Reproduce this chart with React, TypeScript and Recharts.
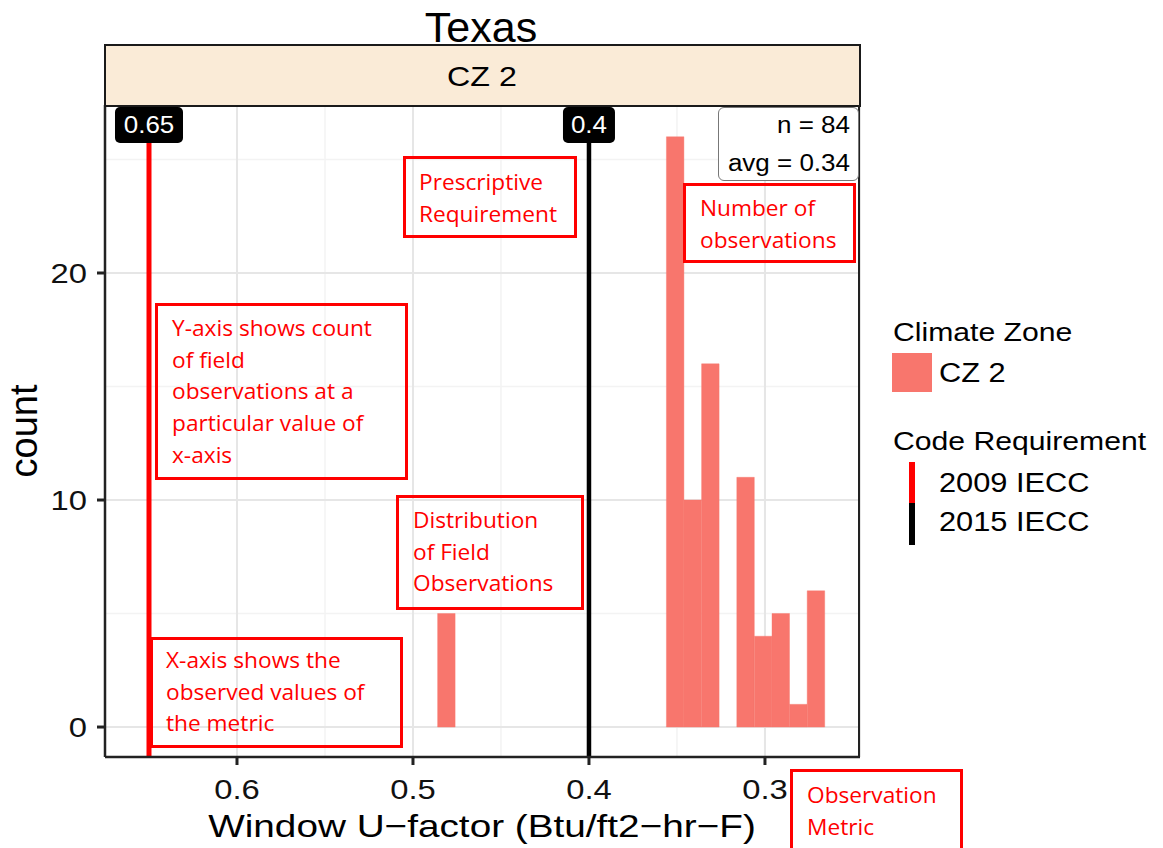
import React from "react";
import {
  ComposedChart,
  Bar,
  XAxis,
  YAxis,
  CartesianGrid,
  ReferenceLine,
} from "recharts";

// histogram bins (bin centre of U-factor) and counts, CZ 2 Texas
const binCenters = [0.481, 0.351, 0.341, 0.331, 0.311, 0.301, 0.291, 0.281, 0.271];
const counts = [5, 26, 10, 16, 11, 4, 5, 1, 6];

const xTicks = [0.3, 0.4, 0.5, 0.6];
const xMinor = [0.35, 0.45, 0.55, 0.65];
const yTicks = [0, 10, 20];
const yMinor = [5, 15, 25];

const codeValues = [0.65, 0.4];
const codeLabels = ["0.65", "0.4"];
const codeNames = ["2009 IECC", "2015 IECC"];
const codeColors = ["#FF0000", "#000000"];

const zoneNames = ["CZ 2"];
const avgText = "0.34";

const notePrescriptive = ["Prescriptive", "Requirement"];
const noteNumber = ["Number of", "observations"];
const noteYAxis = ["Y-axis shows count", "of field", "observations at a", "particular value of", "x-axis"];
const noteDistribution = ["Distribution", "of Field", "Observations"];
const noteXAxis = ["X-axis shows the", "observed values of", "the metric"];
const noteMetric = ["Observation", "Metric"];

const hist = binCenters.map((u, i) => ({ u, count: counts[i] }));
const nObs = counts.reduce((a, b) => a + b, 0);

const FONT = '"Liberation Sans", Arial, sans-serif';
const NOTE_FONT = '"Open Sans", sans-serif';
const BAR = "#F8766D";
const SX = 1.17;

function Txt({ x, y, size, children, anchor = "start", sx = 1, color = "#000", font = FONT }: any) {
  const tx = anchor === "middle" ? "-50%" : anchor === "end" ? "-100%" : "0";
  const origin = anchor === "middle" ? "center" : anchor === "end" ? "right" : "left";
  return (
    <div
      style={{
        position: "absolute",
        left: x,
        top: y,
        fontSize: size,
        lineHeight: 1,
        fontFamily: font,
        color,
        whiteSpace: "nowrap",
        transform: `translate(${tx},-50%) scaleX(${sx})`,
        transformOrigin: `${origin} center`,
      }}
    >
      {children}
    </div>
  );
}

function Note({ x, y, w, h, lines, tx, ty }: any) {
  return (
    <>
      <div
        style={{
          position: "absolute",
          left: x,
          top: y,
          width: w,
          height: h,
          border: "3px solid #FF0000",
          boxSizing: "border-box",
        }}
      />
      {lines.map((l: string, i: number) => (
        <Txt key={i} x={tx} y={ty + i * 31.7} size={21} sx={1.08} color="#FF0000" font={NOTE_FONT}>
          {l}
        </Txt>
      ))}
    </>
  );
}

const XTick = ({ x, y, payload }: any) => (
  <text
    transform={`translate(${x},${y + 31}) scale(${SX},1)`}
    textAnchor="middle"
    fontSize={28}
    fontFamily={FONT}
    fill="#111"
  >
    {payload.value}
  </text>
);

const YTick = ({ x, y, payload }: any) => (
  <text
    transform={`translate(${x},${y + 10}) scale(${SX},1)`}
    textAnchor="end"
    fontSize={28}
    fontFamily={FONT}
    fill="#111"
  >
    {payload.value}
  </text>
);

const CodeLabel = (props: any) => {
  const vb = props.viewBox || {};
  const cx = vb.x + (vb.width || 0) / 2;
  const top = vb.y;
  const w = 4 + 16 * props.text.length;
  return (
    <g>
      <rect x={cx - w / 2} y={top + 2} width={w} height={36} rx={5} fill="#000" />
      <text
        transform={`translate(${cx},${top + 28}) scale(1.13,1)`}
        textAnchor="middle"
        fill="#fff"
        fontSize={23}
        fontFamily={FONT}
      >
        {props.text}
      </text>
    </g>
  );
};

export default function App() {
  return (
    <div style={{ position: "absolute", left: 0, top: 0, width: 1163, height: 848, background: "#fff", overflow: "hidden" }}>
      <Txt x={481} y={27} size={43} anchor="middle">Texas</Txt>

      <ComposedChart
        width={1163}
        height={848}
        data={hist}
        margin={{ top: 105, right: 303, bottom: 31, left: 45 }}
      >
        <CartesianGrid
          verticalValues={xMinor}
          horizontalValues={yMinor}
          stroke="#F3F3F3"
          strokeWidth={1.5}
        />
        <CartesianGrid stroke="#E6E6E6" strokeWidth={2} />
        <XAxis
          type="number"
          dataKey="u"
          domain={[0.246, 0.675]}
          reversed
          allowDataOverflow
          ticks={xTicks}
          interval={0}
          height={60}
          tickSize={8}
          tickMargin={3}
          axisLine={{ stroke: "#222", strokeWidth: 2.5 }}
          tickLine={{ stroke: "#222", strokeWidth: 3 }}
          tick={<XTick />}
        />
        <YAxis
          type="number"
          domain={[-1.32, 27.4]}
          allowDataOverflow
          ticks={yTicks}
          interval={0}
          width={60}
          tickSize={8}
          tickMargin={10}
          axisLine={{ stroke: "#222", strokeWidth: 2.5 }}
          tickLine={{ stroke: "#222", strokeWidth: 3 }}
          tick={<YTick />}
        />
        <Bar
          dataKey="count"
          fill={BAR}
          stroke={BAR}
          strokeWidth={0.4}
          barSize={17.5}
          isAnimationActive={false}
        />
        {codeValues.map((v, i) => (
          <ReferenceLine
            key={v}
            x={v}
            stroke={codeColors[i]}
            strokeWidth={i === 0 ? 5 : 4.5}
            label={<CodeLabel text={codeLabels[i]} />}
          />
        ))}
      </ComposedChart>

      {/* facet strip */}
      <div
        style={{
          position: "absolute",
          left: 104,
          top: 44,
          width: 757,
          height: 63,
          background: "#FAEBD7",
          border: "2px solid #1a1a1a",
          boxSizing: "border-box",
        }}
      />
      <Txt x={482} y={77} size={28} sx={1.15} anchor="middle">{zoneNames[0]}</Txt>

      {/* right panel border */}
      <div style={{ position: "absolute", left: 858, top: 105, width: 2, height: 652, background: "#222" }} />

      {/* n / avg label */}
      <div
        style={{
          position: "absolute",
          left: 718,
          top: 107,
          width: 141,
          height: 74,
          background: "#fff",
          border: "1px solid #777",
          borderRadius: 6,
          boxSizing: "border-box",
        }}
      />
      <Txt x={850} y={125} size={23} sx={1.13} anchor="end">{`n = ${nObs}`}</Txt>
      <Txt x={850} y={163} size={23} sx={1.13} anchor="end">{`avg = ${avgText}`}</Txt>

      {/* axis titles */}
      <div
        style={{
          position: "absolute",
          left: 24,
          top: 431,
          fontSize: 38,
          lineHeight: 1,
          fontFamily: FONT,
          whiteSpace: "nowrap",
          transform: "translate(-50%,-50%) rotate(-90deg)",
        }}
      >
        count
      </div>
      <Txt x={482} y={826} size={32} sx={1.21} anchor="middle">Window U−factor (Btu/ft2−hr−F)</Txt>

      {/* legend */}
      <Txt x={893} y={332} size={26} sx={1.16}>Climate Zone</Txt>
      <div style={{ position: "absolute", left: 892, top: 353, width: 40, height: 39, background: BAR }} />
      <Txt x={939} y={373} size={27} sx={1.14}>{zoneNames[0]}</Txt>
      <Txt x={893} y={441} size={26} sx={1.16}>Code Requirement</Txt>
      {codeNames.map((n, i) => (
        <React.Fragment key={n}>
          <div
            style={{
              position: "absolute",
              left: 909,
              top: 462 + i * 41,
              width: 6,
              height: 42,
              background: codeColors[i],
            }}
          />
          <Txt x={939} y={483 + i * 39} size={27} sx={1.14}>{n}</Txt>
        </React.Fragment>
      ))}

      {/* annotations */}
      <Note x={403} y={156} w={174} h={82} lines={notePrescriptive} tx={419} ty={182} />
      <Note x={683} y={183} w={173} h={80} lines={noteNumber} tx={700} ty={208} />
      <Note x={155} y={303} w={253} h={177} lines={noteYAxis} tx={172} ty={328} />
      <Note x={396} y={495} w={188} h={115} lines={noteDistribution} tx={413} ty={520} />
      <Note x={150} y={637} w={253} h={111} lines={noteXAxis} tx={166} ty={660} />
      <Note x={790} y={769} w={173} h={95} lines={noteMetric} tx={807} ty={795} />
    </div>
  );
}
